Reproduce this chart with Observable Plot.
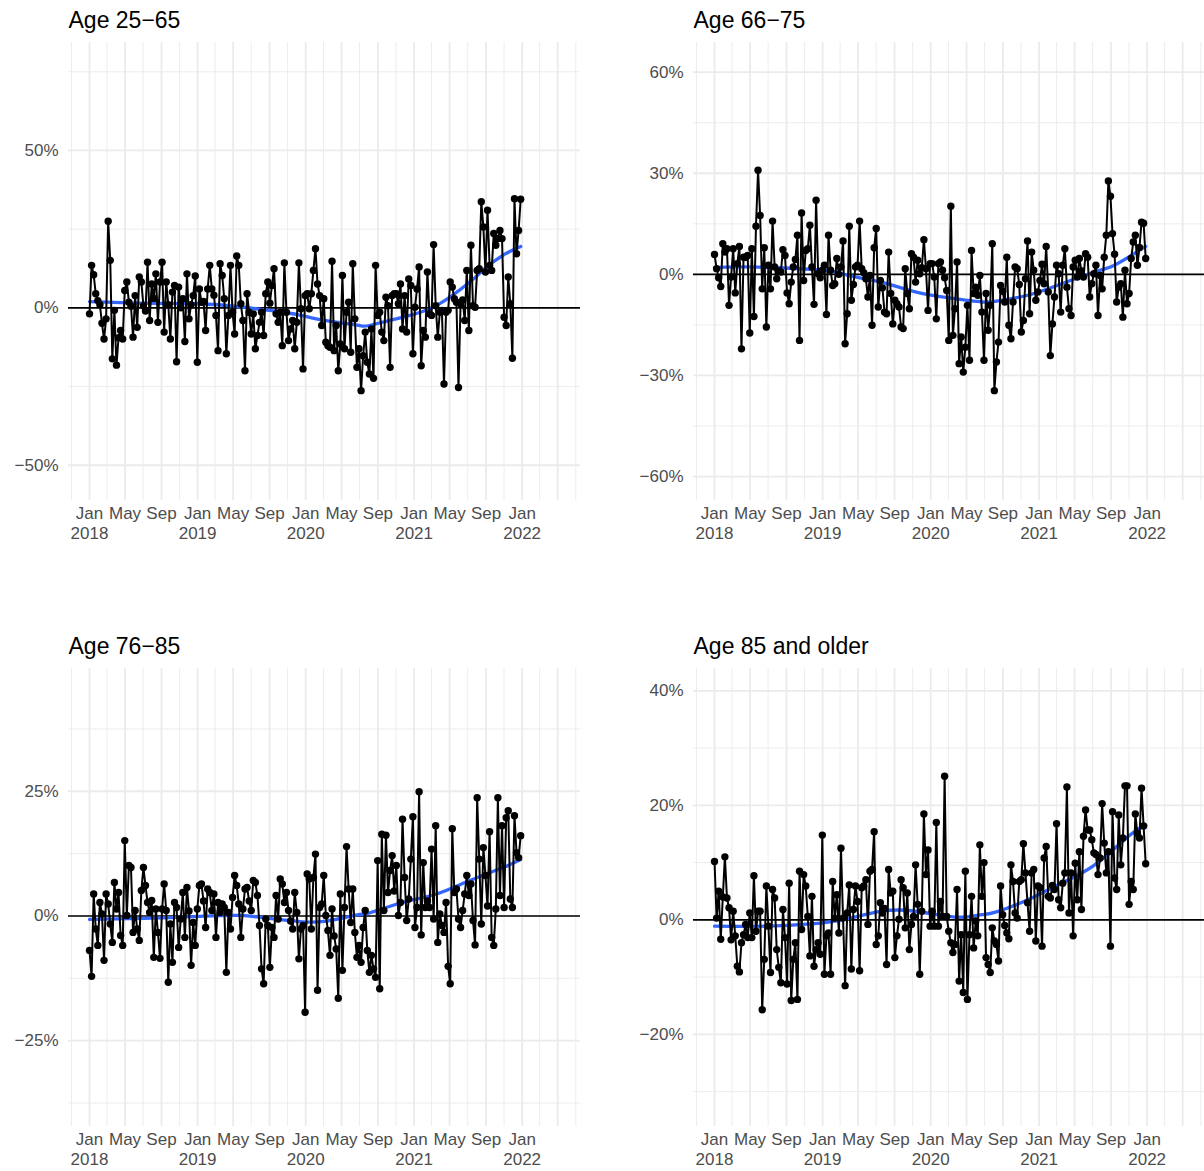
<!DOCTYPE html>
<html><head><meta charset="utf-8">
<script src="https://cdn.jsdelivr.net/npm/d3@7"></script>
<script src="https://cdn.jsdelivr.net/npm/@observablehq/plot@0.6"></script>
<style>
html,body{margin:0;padding:0;background:#fff;}
body{width:1204px;height:1171px;overflow:hidden;position:relative;}
.panel{position:absolute;width:600px;height:560px;}
.panel svg{max-width:none !important;}
</style></head><body>
<div id="root"></div>
<script>
// ---------- data (weekly, first week 2018-01-01) ----------
const firstWeek = "2018-01-01";
const titles = ["Age 25−65", "Age 66−75", "Age 76−85", "Age 85 and older"];

const age2565 = [-1.9,13.5,10.5,4.5,2.3,1.0,-4.9,-9.9,-3.5,27.5,15.1,-16.2,-0.8,-18.2,-9.5,-7.2,-9.9,5.5,8.2,1.8,0.5,-9.3,3.9,-6.2,9.8,8.2,0.7,-1,14.5,-4,7.6,3,10.8,-4.6,8.2,14.5,-7.7,8.2,1,-9.9,5,7.1,-17.1,6.6,0,2.9,-10.7,10.8,-3.5,1,3.9,10.1,-17.3,6,1.8,2,-7.2,6,13.5,6,4,-2.4,-13.6,14,10.3,2.9,-14.6,
 -2.4,13.5,-1.4,-8.3,16.5,13.5,1.3,-4,-20,4.5,-1.4,-8.3,-1.9,-13,-8.8,-4.6,-1.4,-8.8,4.5,8.2,1.5,7.1,12.4,-1.9,-4.6,-1.4,-12,14.3,-1.4,-10.4,-6.7,-4,-13,-4.6,14.3,-0.3,-19.4,3.9,4.5,-0.3,4.5,11.9,18.8,7.6,3.9,-5.6,2.9,-10.9,-12,-12.5,14.8,-13.6,-5.6,-20,-11.5,10.3,-13,-1.4,1.8,-14.1,14,-3.5,-18.9,-13,-26.3,-15.2,-7.7,-17.3,-21,
 -6.7,-22.4,13.5,-2.4,-1.4,-7.7,-10.4,3.4,0.7,-18.9,3.9,4.5,4.5,1.3,7.6,-6.7,3.9,-7.7,9.2,7.1,-14.6,0.2,6,13,-18.4,-7.2,-9.3,11.4,-1.9,-2.4,20.1,0.7,-9.3,-1.4,-0.8,-24.2,-1.4,-0.8,8.2,6.6,2.9,1.8,-25.3,1.3,2.5,-4,11.9,-7.2,19.9,0.7,0.2,11.9,12.4,33.7,25.7,11.4,31,13.5,11.9,23.6,19.9,22,24.6,22,-3,-5.6,9.8,1.3,-16,34.7,17.2,24.6,34.5];

const age6675 = [5.9,1.7,-1,-3.6,9.1,6.6,7.6,-9.2,-0.8,7.6,-5.5,3.2,8.3,-22.1,5.1,5.1,5.6,-17.4,7.6,-12.5,14.3,30.9,17.5,-4.3,7.9,-15.6,2.7,-4.3,15.8,2.2,-1.3,1.0,0.7,7.3,5.6,-5.5,-8.7,-2.3,2.2,4.4,11.6,-19.6,18.2,-1.8,7.1,7.6,14.6,2.2,-8.9,22,0.2,-1,1.2,2.7,-11.9,11.6,1.2,-3.3,-2.8,4.7,0,2.2,9.9,-20.6,-11.7,14.3,-7.7,
 -3,2.2,2.7,15.8,1.7,0.5,-1.3,-6.7,-0.3,-15.1,7.9,13.6,-9.7,-1.8,-4,-11.2,-11.7,6.6,-5.7,-14.7,-7.7,-8.7,-9.7,-15.6,-16.1,1.7,-5.7,-10.2,6.1,5.1,-2.3,4.2,0.2,2,10.3,1.7,-10.7,3.2,3.2,-0.8,-13.2,3.2,3.7,1.2,-1,-4.8,-19.6,20.2,-18.1,-10.2,3.7,-26.5,-18.6,-29,-21.6,-9.2,-25.5,7.1,-5.7,-3.8,-6.2,-0.3,-11.2,-25.5,-5.7,-16.6,-9.2,9.1,-34.5,
 -26,-20.1,-3.3,-5,-8.2,5.1,-15.1,-19.1,-8.2,2.2,1.7,-3,-17.1,-13.7,-1.3,9.9,-11.7,6.6,1.2,-7.7,-5.2,-1.8,3,-2.8,8.3,-5.2,-24.1,-14.7,-6.7,2.7,0.2,-11.2,2.7,7.6,-3.8,-10.2,-12.2,2.2,4.2,-0.8,4.7,1,-0.8,6.1,5.1,-6.7,-2.8,0.2,2.7,-12.2,-0.3,-4.3,5.1,11.6,27.7,23.2,12.1,6,-8.2,-3.8,-2.8,-12.7,1.2,-8.7,-5.7,4.7,9.6,11.6,2.7,8,15.5,15.2,4.7];

const age7685 = [-6.9,-12.1,4.4,-2.6,-5.9,2.7,0.4,-8.9,4.4,2.4,-1.6,-5.3,6.7,1.4,4.7,-3.9,-5.9,15.1,0.1,10.1,9.7,-3.3,1.1,-2.6,-4.9,5.1,9.7,6.1,2.7,0.7,3.1,-8.3,1.4,-3.3,-8.5,1.4,6.4,1.1,-13.3,-1.6,-9.3,2.7,1.7,-6.3,-0.6,4.7,-4.3,5.7,1,-9.9,-1.3,-5.9,1.4,6.1,6.4,3,-2.3,5.4,4.7,1.1,4.4,-4.3,2.7,0.7,2.4,1.7,-11.3,
 0.7,-2.6,3.7,8.1,6.1,2.4,-4.3,1.4,5.4,5.7,3,1.1,7.1,6.7,4.1,-1.9,-10.6,-13.6,-0.6,-1.9,-10.3,-2.3,-4.3,4.1,-0.6,7.4,6.4,2.7,4.7,1.1,-1,-2.6,4.7,0.7,-8.6,-2.6,-1.9,-19.3,8.4,7.4,-2.6,7.7,12.4,-14.9,1.7,2.4,8.1,0.1,-2.9,-7.9,1.4,-4,-6.6,-16.5,4.4,-10.9,1.7,13.9,5.4,-1.3,5.4,-3.3,-8.3,-5.9,-9.3,-2.3,1.1,-6.9,-11.3,
 -7.9,-10.6,-12.3,11.1,-14.6,16.4,1.1,16.2,4.7,9.1,12.1,5,10.1,0.1,2.7,19.4,7.7,-0.9,3.4,11.4,19.9,-2.3,1.7,24.9,-3.8,10.7,1.7,3,1.7,13.4,-0.6,18.1,-5.3,0.4,-1.9,-3.3,2.7,-10.1,-13.6,17.5,4.7,5.4,-0.6,-2.3,1.1,4.4,8.1,4.1,6.4,-0.9,-5.8,23.7,11.4,-1.6,13.7,8.1,2,16.9,-4.3,-5.9,1.4,23.7,4.1,18.1,1.7,19.7,21.1,3.4,1.7,20.1,12.7,11.7,16.1];

const age85plus = [10.2,0.3,5,-3.4,4,11,3.8,2.1,-3.5,1.5,-2.8,-8.1,-9.1,-4,-2.6,-0.8,-3.1,1.2,-3.1,7.7,-2,1.5,1.5,-15.7,-6.9,5.9,-1.1,-9.2,5.3,3.8,-5.2,-8.3,-11,1.8,-3.1,-11.2,6.4,-14.1,-6.9,-4,-13.9,8.5,-1.7,7.9,5.9,0.6,-6.3,4.1,-8.1,-5.2,-4,-6,14.8,-9.5,-2.8,-2.3,-9.5,6.7,0.3,4.4,-2.3,12.5,0.3,-11.5,1.2,6.1,-8.6,
 1.8,5.9,3.2,-8.9,5.6,5.9,7,-0.8,8.5,8.8,15.4,-4.3,-2.8,3,1.2,2,-7.8,8.8,4.7,5,-6.6,-2.8,0.1,7,5.6,-1.4,4.7,-5.2,-0.8,0.6,9.6,2.7,-9.5,1.5,18.5,7.9,12.2,-1.1,1.5,-1.1,17,-1.1,3.2,0.6,25.1,0.6,-2,-4,-5.7,-4.3,5.3,-10.7,-2.6,-12.7,8.5,-13.9,-2.6,4.1,-4.9,-0.2,-2.8,13.1,4.1,10,-6.6,-7.8,-9.2,-1.4,-3.7,
 -4.3,-7.2,5.9,0.9,-1,-2.3,-3.3,9.6,6.7,1.2,0.3,6.7,7,13.3,8.2,3,-2,8.2,8.8,-3.7,5.9,5.6,-4.6,10.8,12.8,4.1,3.8,6,5.3,16.8,3.5,2.1,6.4,8.2,23.2,1.2,8.2,-2.8,9.9,3.5,11.9,1.8,14.6,19.2,15.7,15.7,14,11.7,11.4,7.9,10.8,20.3,13.4,8.2,11.9,-4.6,18.9,7.3,5.3,18.3,9.6,14.3,23.4,23.4,2.7,6.7,5.3,18.5,15.1,14.3,23,16.4,9.8];

// smooth trend lines
const smooth2565Dates = ["2018-01-01","2018-07-03","2019-01-03","2019-05-26","2019-09-15","2019-12-08","2020-03-03","2020-06-23","2020-08-03","2020-11-23","2021-03-17","2021-07-08","2021-08-27","2021-10-28","2021-12-27"];
const smooth2565 = [2.0,1.5,1.3,0.3,-1.0,-2.2,-4.0,-5.5,-5.6,-3.0,0.7,8.2,12.4,16.7,19.5];
const smooth6675Dates = ["2018-01-01","2018-05-01","2019-01-01","2019-03-28","2019-07-18","2019-11-10","2020-03-03","2020-06-24","2020-08-20","2020-11-24","2021-03-18","2021-07-08","2021-09-05","2021-10-30","2021-12-27"];
const smooth6675 = [2.0,2.2,1.2,-0.3,-2.3,-5.2,-7.0,-8.2,-7.8,-6.2,-2.8,0.7,2.4,5.1,8.3];
const smooth7685Dates = ["2018-01-01","2018-07-03","2019-01-03","2019-05-26","2019-09-15","2019-12-08","2020-03-03","2020-06-23","2020-08-03","2020-11-23","2021-03-17","2021-07-08","2021-10-28","2021-12-27"];
const smooth7685 = [-0.7,-0.5,-0.1,0.1,-0.6,-1.1,-1.1,0.2,0.6,2.7,4.4,7.1,9.7,11.3];
const smooth85Dates = ["2018-01-01","2018-07-05","2018-10-27","2019-02-17","2019-07-19","2019-11-10","2020-03-03","2020-04-30","2020-06-24","2020-08-10","2020-11-24","2021-03-18","2021-07-08","2021-10-30","2021-12-27"];
const smooth85 = [-1.1,-1.1,-0.8,-0.2,1.5,1.5,0.6,0.5,0.9,1.4,3.5,6.4,9.6,14.6,16.5];

// axes
const xDomain = ["2017-10-22","2022-07-17"];
const xLabelTicks = ["2018-01-01","2018-05-01","2018-09-01","2019-01-01","2019-05-01","2019-09-01","2020-01-01","2020-05-01","2020-09-01","2021-01-01","2021-05-01","2021-09-01","2022-01-01"];
const xMajorGrid = [...xLabelTicks, "2022-05-01"];
const xMinorGrid = ["2017-11-01","2018-03-01","2018-07-01","2018-11-01","2019-03-01","2019-07-01","2019-11-01","2020-03-01","2020-07-01","2020-11-01","2021-03-01","2021-07-01","2021-11-01","2022-03-01","2022-07-01"];
const monthNames = ["Jan","Feb","Mar","Apr","May","Jun","Jul","Aug","Sep","Oct","Nov","Dec"];

const yDomains = [[-61.2,84.3],[-67.1,68.8],[-42.2,49.6],[-36.1,43.9]];
const yMajors = [[-50,0,50],[-60,-30,0,30,60],[-25,0,25],[-20,0,20,40]];
const yMinors = [[-25,25,75],[-45,-15,15,45],[-37.5,-12.5,12.5,37.5],[-30,-10,10,30]];

// ---------- drawing ----------
const FONT = "'Liberation Sans', Arial, Helvetica, sans-serif";
const toDate = s => new Date(s + "T00:00:00Z");
const pct = v => (v < 0 ? "\u2212" : "") + Math.abs(v) + "%";
const xFmt = d => {
  const m = d.getUTCMonth();
  return m === 0 ? "Jan\n" + d.getUTCFullYear() : monthNames[m];
};

const series = [
  {values: age2565, sd: smooth2565Dates, sv: smooth2565},
  {values: age6675, sd: smooth6675Dates, sv: smooth6675},
  {values: age7685, sd: smooth7685Dates, sv: smooth7685},
  {values: age85plus, sd: smooth85Dates, sv: smooth85}
];
const positions = [[0,0],[625,0],[0,626],[625,626]];
const start = toDate(firstWeek);

series.forEach((s, k) => {
  const data = s.values.map((v, i) => ({date: new Date(start.getTime() + i * 7 * 864e5), value: v}));
  const smooth = s.sd.map((d, i) => ({date: toDate(d), value: s.sv[i]}));
  const chart = Plot.plot({
    width: 600, height: 560,
    marginLeft: 68, marginRight: 20, marginTop: 42, marginBottom: 60,
    style: {fontFamily: FONT, fontSize: "17px", background: "transparent", overflow: "visible", maxWidth: "none"},
    x: {type: "utc", domain: xDomain.map(toDate), label: null},
    y: {domain: yDomains[k], label: null},
    marks: [
      Plot.ruleX(xMinorGrid.map(toDate), {stroke: "#ebebeb", strokeWidth: 0.9}),
      Plot.ruleX(xMajorGrid.map(toDate), {stroke: "#ebebeb", strokeWidth: 1.8}),
      Plot.ruleY(yMinors[k], {stroke: "#ebebeb", strokeWidth: 0.9}),
      Plot.ruleY(yMajors[k], {stroke: "#ebebeb", strokeWidth: 1.8}),
      Plot.axisX({ticks: xLabelTicks.map(toDate), tickFormat: xFmt, tickSize: 0, tickPadding: 5, fill: "#4d4d4d", fontSize: 17, lineHeight: 1.15, label: null}),
      Plot.axisY({ticks: yMajors[k], tickFormat: pct, tickSize: 0, tickPadding: 10, fill: "#4d4d4d", fontSize: 17, label: null}),
      Plot.ruleY([0], {stroke: "black", strokeWidth: 1.6}),
      Plot.line(smooth, {x: "date", y: "value", stroke: "#3366ff", strokeWidth: 3.3, curve: "natural"}),
      Plot.line(data, {x: "date", y: "value", stroke: "black", strokeWidth: 2}),
      Plot.dot(data, {x: "date", y: "value", r: 3.7, fill: "black"}),
      Plot.text([titles[k]], {frameAnchor: "top-left", text: d => d, dy: -22, textAnchor: "start", lineAnchor: "middle", fontSize: 23, fill: "black"})
    ]
  });
  const wrap = document.createElement("div");
  wrap.className = "panel";
  wrap.style.left = positions[k][0] + "px";
  wrap.style.top = positions[k][1] + "px";
  wrap.appendChild(chart);
  document.getElementById("root").appendChild(wrap);
});
</script>
</body></html>
